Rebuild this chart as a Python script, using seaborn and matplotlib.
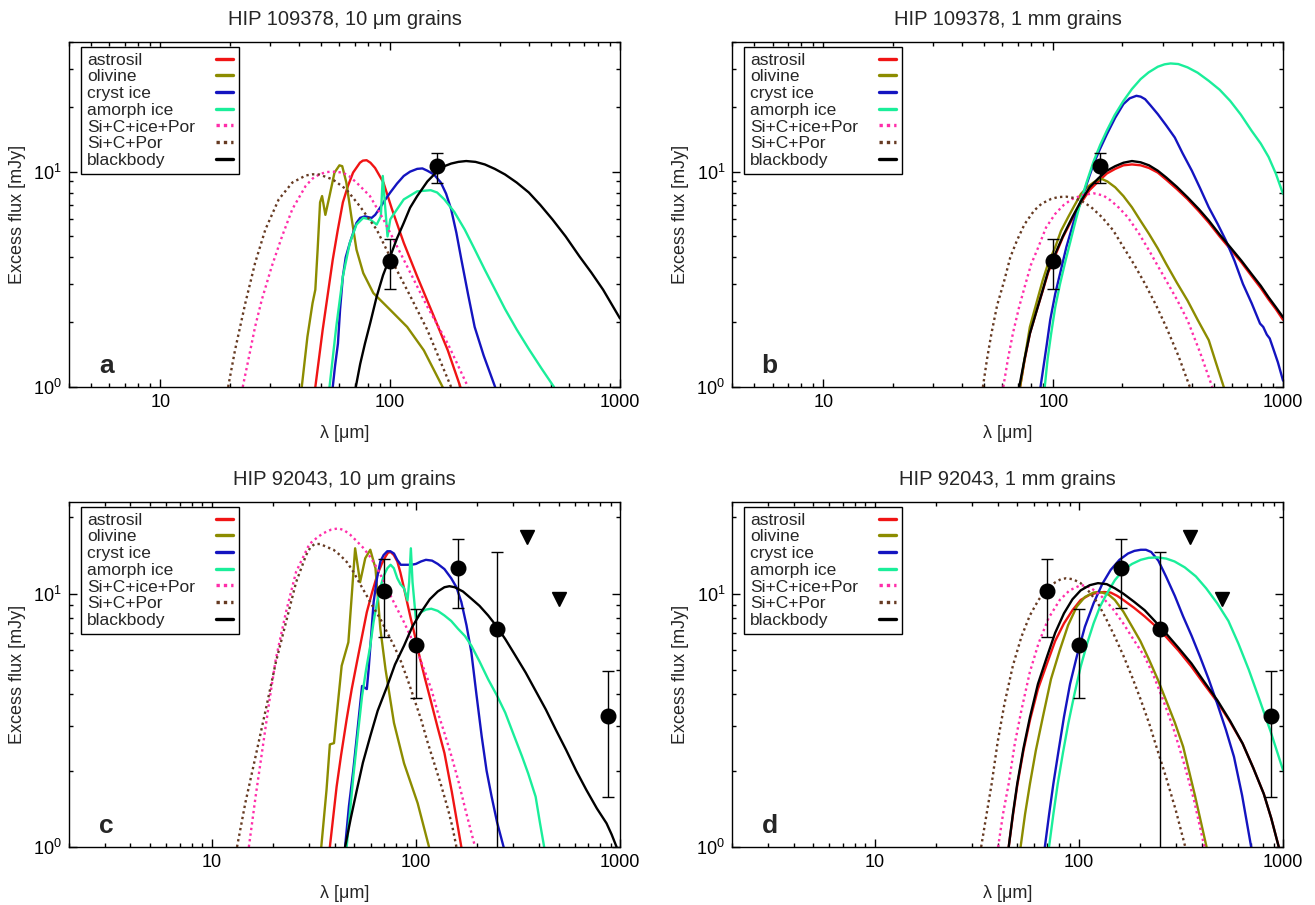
import numpy as np
import pandas as pd
import seaborn as sns
import matplotlib
matplotlib.use('Agg')
import matplotlib.pyplot as plt
from matplotlib.lines import Line2D
from matplotlib.ticker import FuncFormatter, NullFormatter

# ---- data (wavelength in um, excess flux in mJy) ----
models = ['astrosil', 'olivine', 'cryst ice', 'amorph ice', 'Si+C+ice+Por', 'Si+C+Por', 'blackbody']

# panel a: HIP 109378, 10 um grains
a_astrosil = [(47.2, 1.0), (50.8, 1.84), (56.2, 3.9), (59, 5.3), (62.2, 7.2), (65.5, 8.6), (68.9, 9.9), (73.8, 11.0),
              (76, 11.25), (78.9, 11.3), (82, 11.0), (85.9, 10.4), (93.4, 8.9), (101.7, 6.7), (114.5, 4.67), (131, 3.26),
              (155, 2.12), (178, 1.48), (202, 1.0)]
a_olivine = [(41.2, 1.0), (43.6, 1.71), (45.9, 2.45), (47.2, 2.83), (48.3, 4.34), (49.5, 7.2), (50.5, 7.7), (52.2, 6.3),
             (54.4, 7.7), (57.2, 9.9), (60.1, 10.7), (61.8, 10.6), (64.4, 8.9), (67.7, 6.2), (71.3, 4.34), (76.3, 3.38),
             (84.4, 2.73), (100, 2.28), (118.5, 1.9), (140, 1.48), (169, 1.0)]
a_cryst = [(56.2, 1.0), (57.5, 1.25), (59.2, 1.59), (60.5, 2.3), (62.2, 3.26), (64, 4.0), (66.7, 4.67), (71.3, 5.78),
           (74, 6.1), (77.6, 6.2), (80, 6.15), (83, 6.1), (86, 6.3), (90.3, 6.8), (95, 7.4), (100, 8.0), (107, 8.8),
           (114.5, 9.55), (122, 10.0), (131, 10.3), (138, 10.35), (145, 10.1), (155, 9.7), (166, 8.9), (175, 7.9),
           (184, 6.7), (194, 5.2), (204, 3.9), (218, 2.7), (233, 1.9), (255, 1.4), (286, 1.0)]
a_amorph = [(54.4, 1.0), (58.2, 1.9), (62.2, 3.26), (66.7, 4.67), (71.3, 5.68), (76.3, 6.1), (81.6, 6.0), (87.3, 5.68),
            (91, 6.2), (92.8, 9.55), (95, 6.9), (97.3, 5.0), (100, 6.0), (102, 6.2), (114.5, 7.43), (131, 8.1), (150, 8.2),
            (160, 8.0), (172, 7.43), (190, 6.5), (211, 5.38), (232, 4.4), (258, 3.5), (285, 2.85), (316, 2.3),
            (355, 1.85), (401, 1.5), (455, 1.22), (516, 1.0)]
a_sicice = [(22.8, 1.0), (24.1, 1.33), (25.8, 1.9), (27.6, 2.54), (30.5, 3.63), (33.8, 5.0), (37.5, 6.7), (42.9, 8.6),
            (46, 9.3), (49.1, 9.7), (52.5, 9.95), (56.2, 10.0), (62.2, 9.9), (66.5, 9.5), (71.3, 8.9), (81.6, 7.7),
            (93.4, 6.0), (107, 4.5), (122.5, 3.38), (145, 2.36), (178, 1.59), (218, 1.0)]
a_sic = [(19.7, 1.0), (21.1, 1.48), (23.4, 2.45), (25.8, 3.76), (28.6, 5.38), (32.7, 7.43), (37.5, 8.9), (42.9, 9.6),
         (46, 9.72), (49.1, 9.7), (56.2, 9.2), (64.4, 8.27), (73.8, 6.9), (87.3, 5.38), (103, 3.76), (122.5, 2.63),
         (145, 1.84), (184, 1.0)]
a_bb = [(70.8, 1.0), (74, 1.28), (77.6, 1.59), (82, 2.0), (87.3, 2.63), (93, 3.3), (100, 4.04), (107, 4.9), (114.5, 5.78),
        (122, 6.8), (131, 7.7), (145, 9.0), (161, 10.1), (172, 10.6), (184, 10.9), (198, 11.1), (214, 11.2), (235, 11.1),
        (258, 10.8), (285, 10.3), (316, 9.7), (355, 8.9), (401, 8.0), (450, 7.0), (508, 6.0), (580, 5.0), (666, 4.04),
        (750, 3.4), (844, 2.83), (1000, 2.08)]

# panel b: HIP 109378, 1 mm grains
b_astrosil = [(71.7, 1.0), (75, 1.33), (79.1, 1.77), (84, 2.2), (89.9, 2.79), (95, 3.4), (102, 4.08), (110, 4.95),
              (121, 6.03), (132, 7.15), (144, 8.22), (157, 9.0), (171, 9.8), (186, 10.3), (202, 10.7), (220, 10.8),
              (240, 10.7), (261, 10.4), (285, 9.9), (310, 9.18), (345, 8.3), (384, 7.45), (430, 6.55), (475, 5.8),
              (530, 5.0), (589, 4.37), (660, 3.78), (729, 3.28), (800, 2.88), (865, 2.55), (930, 2.3), (1000, 2.05)]
b_olivine = [(71.7, 1.0), (75, 1.35), (79.1, 1.9), (84, 2.4), (89.9, 3.12), (95, 3.75), (102, 4.46), (108, 5.3),
             (116, 6.14), (124, 7.0), (132, 7.88), (141, 8.5), (150, 8.92), (156, 9.15), (163, 9.24), (172, 9.0),
             (186, 8.46), (202, 7.7), (220, 6.83), (240, 5.9), (261, 5.14), (285, 4.4), (310, 3.73), (345, 3.05),
             (384, 2.52), (425, 2.05), (475, 1.65), (510, 1.3), (552, 1.0)]
b_cryst = [(88, 1.0), (93.8, 1.59), (97, 2.05), (102, 2.71), (108, 3.5), (114, 4.46), (123, 5.9), (132, 7.34), (141, 9.0),
           (150, 10.9), (160, 12.8), (171, 14.9), (186, 17.8), (202, 20.6), (215, 21.9), (230, 22.5), (240, 22.3),
           (251, 21.7), (265, 20.3), (285, 18.5), (310, 16.4), (338, 14.4), (365, 12.2), (401, 10.1), (435, 8.4),
           (475, 6.83), (520, 5.7), (564, 4.79), (615, 3.85), (669, 3.01), (730, 2.45), (794, 1.97), (820, 1.9),
           (850, 1.75), (875, 1.68), (902, 1.53), (950, 1.3), (1000, 1.07)]
b_amorph = [(91.8, 1.0), (94.5, 1.35), (97.9, 1.77), (102, 2.35), (107, 3.01), (113, 3.85), (119, 4.79), (125, 5.9),
            (132, 7.34), (140, 9.0), (150, 11.2), (160, 13.3), (171, 15.5), (185, 18.3), (202, 21.3), (220, 24.2),
            (240, 26.9), (260, 28.9), (285, 30.7), (305, 31.5), (324, 31.8), (350, 31.6), (384, 30.5), (425, 28.8),
            (475, 26.4), (530, 24.0), (589, 21.3), (655, 18.4), (729, 15.5), (800, 13.5), (865, 11.7), (930, 9.8),
            (1000, 7.88)]
b_sicice = [(60.6, 1.0), (63.5, 1.35), (66.7, 1.77), (71, 2.35), (75.7, 3.01), (80, 3.7), (86.1, 4.46), (93, 5.5),
            (102, 6.37), (111, 7.0), (121, 7.47), (135, 7.8), (150, 7.93), (165, 7.75), (178, 7.34), (193, 6.8),
            (211, 6.14), (235, 5.2), (261, 4.31), (285, 3.65), (310, 3.12), (345, 2.55), (384, 2.04), (435, 1.45),
            (492, 1.0)]
b_sic = [(49.4, 1.0), (51.5, 1.35), (53.8, 1.77), (57, 2.4), (61.2, 3.12), (65, 4.0), (69.5, 4.79), (75, 5.7),
         (82.6, 6.6), (89, 7.1), (97.9, 7.47), (105, 7.62), (114, 7.65), (123, 7.55), (132, 7.34), (146, 6.85),
         (163, 6.14), (182, 5.35), (202, 4.46), (225, 3.7), (251, 3.01), (280, 2.4), (310, 1.9), (350, 1.4), (393, 1.0)]
b_bb = [(71.1, 1.0), (75, 1.35), (79.1, 1.77), (84, 2.2), (89.9, 2.81), (95, 3.45), (102, 4.15), (110, 5.0), (121, 6.14),
        (132, 7.3), (144, 8.46), (157, 9.3), (171, 10.1), (186, 10.6), (202, 11.0), (220, 11.2), (240, 11.05),
        (261, 10.7), (285, 10.1), (310, 9.4), (345, 8.5), (384, 7.6), (430, 6.7), (475, 5.93), (530, 5.1), (589, 4.46),
        (660, 3.85), (729, 3.35), (800, 2.95), (865, 2.61), (930, 2.35), (1000, 2.11)]

# panel c: HIP 92043, 10 um grains
c_astrosil = [(37.9, 1.0), (40.9, 1.73), (43, 2.3), (45.8, 3.19), (48.5, 4.2), (51.4, 5.35), (54.5, 6.8), (57.5, 8.45),
              (61, 10.1), (64.6, 11.8), (68, 13.1), (71, 14.0), (73, 14.5), (75.2, 14.6), (78, 14.2), (81.1, 13.4),
              (84, 12.1), (87.5, 10.5), (91, 9.1), (94.5, 7.95), (99, 6.8), (104, 5.69), (111, 4.6), (119, 3.71),
              (128, 2.95), (138, 2.35), (150, 1.65), (167, 1.0)]
c_olivine = [(34.4, 1.0), (36.5, 1.68), (37.9, 2.54), (39.7, 2.57), (40.9, 3.29), (43.3, 5.19), (46.7, 6.43), (48.5, 9.8),
             (50.4, 15.1), (53.3, 11.1), (56.5, 13.8), (59.8, 14.9), (63.4, 12.6), (67, 7.26), (71, 5.03), (78.1, 3.09),
             (87.5, 2.14), (102, 1.49), (116, 1.0)]
c_cryst = [(45, 1.0), (47, 1.45), (49.4, 2.02), (52, 3.0), (54.5, 4.32), (57.5, 4.2), (58.7, 5.03), (62.1, 9.27),
           (64.5, 11.5), (67, 13.4), (69.5, 14.2), (72.4, 14.7), (75, 14.7), (78.1, 14.4), (81, 13.6), (84.3, 13.0),
           (87.5, 13.0), (91, 13.0), (95, 13.0), (100, 13.1), (106, 13.4), (112, 13.6), (120, 13.5), (128, 13.1),
           (138, 12.5), (149, 11.5), (158, 10.6), (167, 9.27), (177, 7.5), (187, 5.86), (198, 4.0), (210, 2.74),
           (222, 2.0), (235, 1.58), (250, 1.25), (269, 1.0)]
c_amorph = [(45.8, 1.0), (49.4, 1.9), (52, 2.8), (54.5, 3.94), (57, 5.0), (59.8, 6.23), (62, 7.7), (64.6, 9.27),
            (67, 10.6), (69.7, 11.8), (72.5, 12.6), (75.2, 13.0), (78, 12.6), (81.1, 11.5), (84, 10.9), (87.5, 10.5),
            (91, 9.4), (92.7, 11.1), (94.5, 15.1), (96.3, 11.1), (100, 7.95), (106, 8.45), (112, 8.65), (119, 8.72),
            (128, 8.55), (138, 8.2), (149, 7.8), (161, 7.26), (174, 6.8), (187, 6.23), (205, 5.4), (226, 4.59),
            (250, 3.95), (274, 3.39), (300, 2.8), (331, 2.28), (355, 1.95), (386, 1.58), (405, 1.25), (425, 1.0)]
c_sicice = [(15.2, 1.0), (16.4, 1.58), (17.7, 2.42), (19.1, 3.71), (20.6, 5.52), (23.1, 8.45), (25.9, 12.2), (30.1, 15.7),
            (33, 16.7), (35.1, 17.3), (38.5, 17.9), (41.7, 18.1), (44.5, 17.8), (47.6, 17.1), (51, 16.2), (55.5, 15.1),
            (60, 13.9), (64.6, 12.6), (70, 11.1), (75.2, 9.8), (81, 8.7), (87.5, 7.71), (94, 6.8), (102, 5.86),
            (110, 5.0), (119, 4.2), (128, 3.4), (138, 2.82), (149, 2.3), (161, 1.84), (175, 1.4), (195, 1.0)]
c_sic = [(13.3, 1.0), (14.6, 1.49), (16.4, 2.28), (18.4, 3.49), (20.6, 5.35), (23.1, 7.71), (25.9, 11.1), (29, 14.2),
         (30.4, 15.2), (31.9, 15.7), (34, 15.7), (36.5, 15.3), (39.5, 14.9), (42.5, 14.2), (46, 13.3), (49.4, 12.2),
         (53, 11.0), (57.5, 9.8), (62, 8.8), (67, 7.95), (72.5, 7.0), (78.1, 6.23), (84.5, 5.4), (91, 4.59),
         (98, 3.85), (106, 3.19), (114, 2.6), (123, 2.14), (133, 1.75), (144, 1.4), (151, 1.2), (158, 1.0)]
c_bb = [(45, 1.0), (48, 1.3), (51.4, 1.68), (55, 2.15), (59.8, 2.74), (65, 3.45), (72.4, 4.32), (79, 5.25), (87.5, 6.23),
        (96, 7.4), (106, 8.45), (117, 9.5), (128, 10.2), (138, 10.6), (146, 10.7), (155, 10.6), (170, 10.2),
        (187, 9.55), (205, 8.95), (226, 8.2), (248, 7.45), (274, 6.62), (305, 5.75), (345, 4.88), (385, 4.15),
        (433, 3.49), (485, 2.9), (544, 2.42), (610, 2.0), (684, 1.68), (770, 1.42), (859, 1.24), (910, 1.12), (962, 1.0)]

# panel d: HIP 92043, 1 mm grains
d_astrosil = [(45.3, 1.0), (47.5, 1.33), (49.9, 1.75), (53.5, 2.4), (57.6, 3.17), (63, 4.2), (69.8, 5.3), (76.5, 6.5),
              (84.5, 7.63), (93, 8.6), (102, 9.44), (113, 9.9), (124, 10.1), (133, 10.15), (143, 10.1), (154, 9.8),
              (165, 9.44), (186, 8.8), (210, 8.13), (237, 7.45), (267, 6.76), (308, 5.95), (356, 5.15), (410, 4.4),
              (476, 3.74), (550, 3.12), (634, 2.56), (715, 2.05), (805, 1.62), (875, 1.3), (953, 1.0)]
d_olivine = [(51.8, 1.0), (54.5, 1.35), (57.6, 1.78), (61.5, 2.4), (66.6, 3.26), (73, 4.6), (80.6, 5.98), (88.5, 7.5),
             (97.6, 8.89), (107, 9.7), (118, 10.1), (124, 10.15), (130, 10.1), (140, 9.9), (150, 9.44), (165, 8.5),
             (182, 7.42), (200, 6.5), (221, 5.47), (243, 4.6), (267, 3.8), (295, 3.1), (324, 2.49), (370, 1.6), (422, 1.0)]
d_cryst = [(68.1, 1.0), (71.5, 1.35), (75, 1.78), (79.5, 2.4), (84.5, 3.26), (90.5, 4.4), (97.6, 5.64), (107, 7.4),
           (118, 9.16), (130, 10.9), (143, 12.4), (158, 13.6), (174, 14.4), (187, 14.75), (201, 14.9), (213, 14.9),
           (226, 14.6), (245, 13.5), (267, 11.7), (295, 9.8), (324, 8.13), (357, 6.8), (392, 5.64), (432, 4.6),
           (476, 3.68), (525, 2.9), (575, 2.27), (630, 1.6), (698, 1.0)]
d_amorph = [(71.4, 1.0), (75, 1.35), (78.8, 1.78), (83.5, 2.35), (88.7, 3.07), (95, 4.0), (102, 5.15), (110, 6.4),
            (118, 7.63), (127, 8.9), (137, 10.0), (150, 11.3), (165, 12.4), (182, 13.1), (201, 13.6), (220, 13.85),
            (243, 13.9), (268, 13.75), (294, 13.4), (330, 12.7), (374, 11.7), (420, 10.5), (476, 9.16), (540, 7.8),
            (604, 6.36), (680, 5.0), (768, 3.8), (870, 2.85), (1000, 2.01)]
d_sicice = [(40.2, 1.0), (42.5, 1.35), (45.3, 1.78), (48.5, 2.55), (52.3, 3.47), (57.5, 4.9), (63.4, 6.36), (71, 8.0),
            (80.6, 9.44), (90, 10.3), (102, 10.8), (107, 10.75), (113, 10.6), (120, 10.25), (130, 9.7), (146, 8.75),
            (165, 7.63), (186, 6.55), (210, 5.64), (232, 4.75), (255, 3.92), (288, 3.0), (324, 2.2), (365, 1.55),
            (412, 1.0)]
d_sic = [(33.2, 1.0), (35.2, 1.33), (37.4, 1.78), (40, 2.6), (43.2, 3.68), (47.5, 5.2), (52.3, 6.76), (57.5, 8.2),
         (63.4, 9.44), (70, 10.5), (76.8, 11.1), (81.5, 11.4), (86.6, 11.5), (93.5, 11.4), (102, 11.0), (112, 10.2),
         (124, 9.16), (136, 7.95), (150, 6.76), (165, 5.7), (182, 4.7), (200, 3.85), (221, 3.07), (243, 2.4),
         (267, 1.89), (298, 1.4), (332, 1.0)]
d_bb = [(45.3, 1.0), (47.5, 1.35), (49.9, 1.78), (53.5, 2.45), (57.6, 3.26), (63, 4.4), (69.8, 5.64), (76.5, 7.0),
        (84.5, 8.36), (93, 9.5), (102, 10.3), (113, 10.8), (124, 11.0), (137, 10.9), (150, 10.5), (165, 10.0),
        (186, 9.3), (210, 8.6), (237, 7.75), (267, 6.97), (308, 6.1), (356, 5.3), (410, 4.5), (476, 3.8), (550, 3.15),
        (634, 2.56), (715, 2.05), (805, 1.62), (875, 1.3), (953, 1.0)]

# photometry
hip109378_lam = [100, 160]
hip109378_flux = [3.85, 10.6]
hip109378_lo = [2.84, 8.9]
hip109378_hi = [4.87, 12.2]

hip92043_lam = [70, 100, 160, 250, 870]
hip92043_flux = [10.2, 6.27, 12.6, 7.27, 3.29]
hip92043_lo = [6.75, 3.89, 8.74, 0.01, 1.58]
hip92043_hi = [13.7, 8.72, 16.4, 14.6, 4.96]
hip92043_ul_lam = [350, 500]
hip92043_ul_flux = [16.8, 9.5]

titles = ['HIP 109378, 10 μm grains', 'HIP 109378, 1 mm grains', 'HIP 92043, 10 μm grains', 'HIP 92043, 1 mm grains']
letters = ['a', 'b', 'c', 'd']

colors = {'astrosil': '#f01414', 'olivine': '#8c8c00', 'cryst ice': '#1414c0', 'amorph ice': '#1aee9a',
          'Si+C+ice+Por': '#ff2eaa', 'Si+C+Por': '#663a22', 'blackbody': '#000000'}
dashes = {'astrosil': '', 'olivine': '', 'cryst ice': '', 'amorph ice': '', 'Si+C+ice+Por': (1, 1.4),
          'Si+C+Por': (1, 1.4), 'blackbody': ''}

sns.set_theme(style='ticks')
plt.rcParams['font.family'] = ['Liberation Sans', 'DejaVu Sans']
plt.rcParams['mathtext.default'] = 'regular'


def draw_panel(ax, curves, title, letter, xmin, ymax, pts, ul=None):
    ax.set_xscale('log')
    ax.set_yscale('log')
    rows = []
    for name, pairs in zip(models, curves):
        for lam, flux in pairs:
            rows.append((name, lam, flux))
    df = pd.DataFrame(rows, columns=['model', 'lam', 'flux'])
    sns.lineplot(data=df, x='lam', y='flux', hue='model', style='model', hue_order=models, style_order=models,
                 palette=colors, dashes=dashes, estimator=None, sort=False, lw=1.7, legend=False, ax=ax)

    lam, flux, lo, hi = pts
    yerr = [np.array(flux) - np.array(lo), np.array(hi) - np.array(flux)]
    ax.errorbar(lam, flux, yerr=yerr, fmt='o', color='black', ms=10.5, elinewidth=1, capsize=4.5, capthick=1, zorder=5)
    if ul is not None:
        ax.plot(ul[0], ul[1], 'v', color='black', ms=10, ls='none', zorder=5)

    ax.set_xlim(xmin, 1000)
    ax.set_ylim(1, ymax)
    ax.xaxis.set_major_formatter(FuncFormatter(lambda v, _: f'{v:g}'))
    ax.xaxis.set_minor_formatter(NullFormatter())
    ax.yaxis.set_minor_formatter(NullFormatter())
    ax.tick_params(which='both', direction='in', top=True, right=True, labelsize=13, width=1, pad=5, colors='black')
    ax.tick_params(which='major', length=6)
    ax.tick_params(which='minor', length=3)
    for s in ax.spines.values():
        s.set_linewidth(1.0)
        s.set_color('black')

    ax.set_title(title, fontsize=14.5, pad=12.5)
    ax.set_xlabel('λ [μm]', fontsize=13, labelpad=10)
    ax.set_ylabel('Excess flux [mJy]', fontsize=13, labelpad=5)
    ax.text(0.068, 0.062, letter, transform=ax.transAxes, fontsize=19, fontweight='bold', ha='center', va='center')

    handles = [Line2D([], [], color=colors[m], lw=2.4, dashes=(1, 1.2) if dashes[m] else (None, None),
                      linestyle=':' if dashes[m] else '-') for m in models]
    leg = ax.legend(handles, models, loc='upper left', bbox_to_anchor=(0.022, 0.986), borderaxespad=0,
                    markerfirst=False, frameon=True, fancybox=False, edgecolor='black', framealpha=1,
                    fontsize=12.5, labelspacing=0.09, handlelength=1.0, borderpad=0.33)
    leg.get_frame().set_linewidth(1.0)
    # gnuplot style: labels left aligned, samples right aligned
    for col in leg._legend_handle_box.get_children():
        for row in col.get_children():
            row.mode = 'expand'
            row.width = 146


fig = plt.figure(figsize=(13.15, 9.05), dpi=100)
rects = [[0.0525, 0.5724, 0.419, 0.3812], [0.5567, 0.5724, 0.419, 0.3812],
         [0.0525, 0.0641, 0.419, 0.3812], [0.5567, 0.0641, 0.419, 0.3812]]
all_curves = [
    [a_astrosil, a_olivine, a_cryst, a_amorph, a_sicice, a_sic, a_bb],
    [b_astrosil, b_olivine, b_cryst, b_amorph, b_sicice, b_sic, b_bb],
    [c_astrosil, c_olivine, c_cryst, c_amorph, c_sicice, c_sic, c_bb],
    [d_astrosil, d_olivine, d_cryst, d_amorph, d_sicice, d_sic, d_bb],
]
pts109 = (hip109378_lam, hip109378_flux, hip109378_lo, hip109378_hi)
pts92 = (hip92043_lam, hip92043_flux, hip92043_lo, hip92043_hi)
ul92 = (hip92043_ul_lam, hip92043_ul_flux)

for i in range(4):
    ax = fig.add_axes(rects[i])
    if i < 2:
        draw_panel(ax, all_curves[i], titles[i], letters[i], 4, 40, pts109)
    else:
        draw_panel(ax, all_curves[i], titles[i], letters[i], 2, 23, pts92, ul92)

fig.savefig('out.png', dpi=100)
